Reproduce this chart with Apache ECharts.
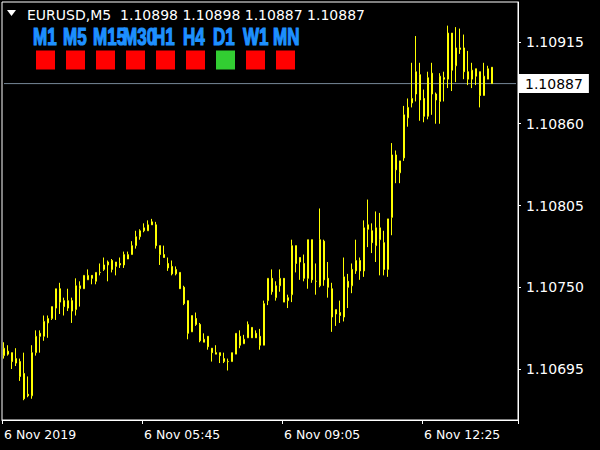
<!DOCTYPE html>
<html><head><meta charset="utf-8">
<script src="https://cdn.jsdelivr.net/npm/echarts@6/dist/echarts.min.js"></script>
<style>html,body{margin:0;padding:0;background:#000;}#main{width:600px;height:450px;}</style>
</head><body><div id="main"></div>
<script>
const symbol = 'EURUSD';
const period = 'M5';
const open = [
1.10704,1.10707,1.10706,1.10702,1.10700,1.10692,1.10678,1.10677,1.10706,1.10719,
1.10717,1.10726,1.10729,1.10736,1.10749,1.10741,1.10736,1.10741,1.10735,1.10749,
1.10749,1.10755,1.10758,1.10754,1.10760,1.10762,1.10765,1.10768,1.10764,1.10766,
1.10765,1.10769,1.10772,1.10778,1.10784,1.10788,1.10788,1.10794,1.10792,1.10778,
1.10772,1.10766,1.10764,1.10759,1.10760,1.10750,1.10741,1.10720,1.10729,1.10725,
1.10713,1.10717,1.10709,1.10706,1.10706,1.10702,1.10700,1.10700,1.10705,1.10717,
1.10712,1.10716,1.10723,1.10719,1.10717,1.10711,1.10741,1.10756,1.10743,1.10751,
1.10756,1.10741,1.10745,1.10778,1.10770,1.10766,1.10756,1.10782,1.10754,1.10751,
1.10781,1.10756,1.10749,1.10732,1.10733,1.10730,1.10754,1.10751,1.10761,1.10768,
1.10761,1.10792,1.10788,1.10778,1.10782,1.10780,1.10762,1.10797,1.10839,1.10827,
1.10837,1.10864,1.10874,1.10880,1.10893,1.10877,1.10865,1.10894,1.10880,1.10875,
1.10891,1.10890,1.10921,1.10899,1.10911,1.10911,1.10895,1.10890,1.10897,1.10895,
1.10879,1.10890,1.10898];
const high = [
1.10713,1.10711,1.10706,1.10709,1.10702,1.10706,1.10690,1.10711,1.10721,1.10721,
1.10731,1.10731,1.10737,1.10749,1.10753,1.10743,1.10749,1.10743,1.10756,1.10754,
1.10758,1.10762,1.10758,1.10760,1.10766,1.10770,1.10768,1.10769,1.10767,1.10770,
1.10774,1.10774,1.10781,1.10788,1.10789,1.10793,1.10795,1.10796,1.10794,1.10778,
1.10778,1.10770,1.10768,1.10764,1.10760,1.10751,1.10741,1.10731,1.10733,1.10726,
1.10719,1.10717,1.10709,1.10711,1.10706,1.10706,1.10702,1.10706,1.10719,1.10721,
1.10718,1.10727,1.10723,1.10721,1.10722,1.10741,1.10756,1.10762,1.10754,1.10762,
1.10756,1.10745,1.10782,1.10778,1.10770,1.10772,1.10782,1.10782,1.10766,1.10803,
1.10782,1.10767,1.10753,1.10735,1.10741,1.10770,1.10759,1.10766,1.10782,1.10770,
1.10795,1.10809,1.10793,1.10801,1.10800,1.10788,1.10796,1.10847,1.10842,1.10835,
1.10872,1.10877,1.10901,1.10919,1.10901,1.10883,1.10895,1.10901,1.10881,1.10894,
1.10895,1.10926,1.10921,1.10925,1.10924,1.10920,1.10909,1.10901,1.10897,1.10895,
1.10901,1.10899,1.10898];
const low = [
1.10702,1.10704,1.10695,1.10697,1.10687,1.10674,1.10676,1.10675,1.10704,1.10706,
1.10714,1.10716,1.10728,1.10728,1.10732,1.10731,1.10734,1.10726,1.10731,1.10737,
1.10749,1.10755,1.10752,1.10752,1.10758,1.10761,1.10754,1.10760,1.10758,1.10763,
1.10763,1.10769,1.10772,1.10776,1.10782,1.10787,1.10788,1.10792,1.10776,1.10765,
1.10770,1.10761,1.10758,1.10758,1.10749,1.10738,1.10715,1.10720,1.10724,1.10713,
1.10713,1.10708,1.10700,1.10705,1.10699,1.10699,1.10694,1.10700,1.10705,1.10709,
1.10712,1.10716,1.10716,1.10716,1.10708,1.10711,1.10738,1.10745,1.10741,1.10747,
1.10740,1.10736,1.10740,1.10760,1.10755,1.10754,1.10749,1.10753,1.10745,1.10750,
1.10751,1.10743,1.10720,1.10724,1.10726,1.10727,1.10736,1.10746,1.10759,1.10755,
1.10757,1.10777,1.10773,1.10767,1.10758,1.10758,1.10757,1.10785,1.10820,1.10820,
1.10835,1.10858,1.10871,1.10875,1.10862,1.10861,1.10863,1.10866,1.10860,1.10860,
1.10875,1.10884,1.10882,1.10888,1.10907,1.10890,1.10886,1.10884,1.10886,1.10871,
1.10879,1.10890,1.10887];
const close = [
1.10709,1.10705,1.10700,1.10699,1.10690,1.10675,1.10677,1.10706,1.10717,1.10717,
1.10727,1.10729,1.10737,1.10749,1.10740,1.10737,1.10741,1.10734,1.10751,1.10751,
1.10758,1.10758,1.10756,1.10760,1.10760,1.10765,1.10767,1.10762,1.10767,1.10765,
1.10772,1.10772,1.10778,1.10784,1.10788,1.10790,1.10792,1.10792,1.10778,1.10772,
1.10770,1.10763,1.10759,1.10762,1.10749,1.10739,1.10719,1.10731,1.10725,1.10714,
1.10715,1.10710,1.10706,1.10705,1.10704,1.10700,1.10700,1.10706,1.10719,1.10711,
1.10715,1.10725,1.10716,1.10716,1.10711,1.10739,1.10756,1.10747,1.10751,1.10756,
1.10740,1.10743,1.10778,1.10766,1.10767,1.10756,1.10782,1.10755,1.10754,1.10782,
1.10755,1.10750,1.10730,1.10735,1.10731,1.10757,1.10750,1.10762,1.10768,1.10761,
1.10790,1.10789,1.10780,1.10790,1.10790,1.10762,1.10796,1.10839,1.10829,1.10835,
1.10866,1.10871,1.10877,1.10895,1.10876,1.10865,1.10891,1.10880,1.10876,1.10892,
1.10890,1.10921,1.10896,1.10911,1.10910,1.10895,1.10890,1.10896,1.10892,1.10879,
1.10892,1.10897,1.10887];
const totalSlots = 129;
const timeLabels = ['6 Nov 2019', '6 Nov 05:45', '6 Nov 09:05', '6 Nov 12:25'];
const timeLabelBars = [0, 35, 70, 105];
const priceTicks = [1.10695, 1.10750, 1.10805, 1.10860, 1.10915];
const priceMin = 1.106607;
const priceMax = 1.109419;
const timeframes = ['M1', 'M5', 'M15', 'M30', 'H1', 'H4', 'D1', 'W1', 'MN'];
const tfSignals = ['down', 'down', 'down', 'down', 'down', 'down', 'up', 'down', 'down'];

const categories = [];
for (let i = 0; i < totalSlots; i++) {
  const k = timeLabelBars.indexOf(i);
  categories.push(k >= 0 ? timeLabels[k] : String(i));
}
const ohlc = open.map((o, i) => [o, close[i], low[i], high[i]]);
const last = open.length - 1;
const fmt = v => v.toFixed(5);
const headerText = symbol + ',' + period + '  ' + fmt(open[last]) + ' ' + fmt(high[last]) + ' ' + fmt(low[last]) + ' ' + fmt(close[last]);
const showAt = (idx) => timeLabelBars.indexOf(idx) >= 0;
const bidLine = [[0, close[last]], [totalSlots - 1, close[last]]];

const graphics = [
  { type: 'polygon', shape: { points: [[7, 10], [16, 10], [11.5, 16]] }, style: { fill: '#fff' } },
  { type: 'text', x: 27, y: 14.5, style: { text: headerText, fill: '#fff', fontSize: 14, fontFamily: 'DejaVu Sans', verticalAlign: 'middle', align: 'left' } }
];
timeframes.forEach((tf, k) => {
  graphics.push({ type: 'text', x: 33 + 30 * k, y: 36.7, scaleX: 0.74, scaleY: 1,
    style: { text: tf, fill: '#1e90ff', fontSize: 23, fontWeight: 'bold', fontFamily: 'Liberation Sans', stroke: '#1e90ff', lineWidth: 1.2, verticalAlign: 'middle', align: 'left' } });
  graphics.push({ type: 'rect', x: 36 + 30 * k, y: 50.5, shape: { x: 0, y: 0, width: 19, height: 19 },
    style: { fill: tfSignals[k] === 'up' ? '#32cd32' : '#ff0000' } });
});

const chart = echarts.init(document.getElementById('main'), null, { renderer: 'svg' });
chart.setOption({
  backgroundColor: '#000',
  animation: false,
  grid: { left: 2, top: 2, right: 82, bottom: 30, show: true, borderColor: '#fff', borderWidth: 1, backgroundColor: '#000' },
  xAxis: {
    type: 'category', data: categories, boundaryGap: true,
    axisLine: { show: true, lineStyle: { color: '#fff' } },
    axisTick: { show: true, interval: showAt, length: 4, lineStyle: { color: '#fff' } },
    axisLabel: { show: true, interval: showAt, color: '#fff', align: 'left', margin: 8, fontSize: 12.5, fontFamily: 'DejaVu Sans' },
    splitLine: { show: false }
  },
  yAxis: {
    type: 'value', position: 'right', min: priceMin, max: priceMax, scale: true,
    axisLine: { show: true, lineStyle: { color: '#fff' } },
    axisTick: { show: true, customValues: priceTicks, length: 3, lineStyle: { color: '#fff' } },
    axisLabel: { show: true, customValues: priceTicks, color: '#fff', margin: 8, fontSize: 14, fontFamily: 'DejaVu Sans', formatter: v => fmt(v) },
    splitLine: { show: false }
  },
  graphic: graphics,
  series: [{
    type: 'line', data: bidLine, z: 1, silent: true, showSymbol: false, symbol: 'none',
    lineStyle: { color: '#778899', width: 1 },
    endLabel: { show: true, distance: 3, formatter: () => fmt(close[last]), color: '#000', backgroundColor: '#fff', padding: [3, 6, 2, 6], fontSize: 14, fontFamily: 'DejaVu Sans' }
  }, {
    type: 'candlestick', data: ohlc, barWidth: 2, z: 2,
    itemStyle: { color: '#000', color0: '#ffff00', borderColor: '#ffff00', borderColor0: '#ffff00', borderWidth: 1 }
  }]
});
</script></body></html>
